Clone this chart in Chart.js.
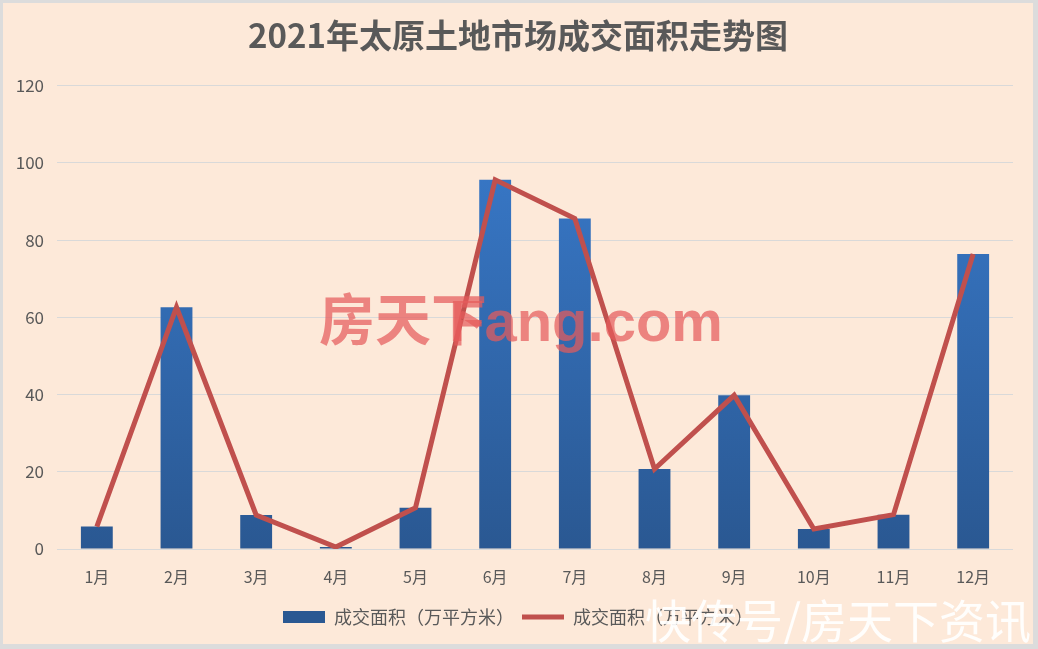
<!DOCTYPE html>
<html>
<head>
<meta charset="utf-8">
<script src="https://cdn.jsdelivr.net/npm/chart.js@4/dist/chart.umd.min.js"></script>
<style>
  html, body { margin: 0; padding: 0; width: 1038px; height: 649px; background: #DCDCDC; overflow: hidden; }
  #frame { position: absolute; left: 3px; top: 3px; width: 1030px; height: 641px; background: #FDE9D9; }
  canvas { display: block; }
</style>
</head>
<body>
<div id="frame"><canvas id="c" width="1030" height="641"></canvas></div>
<script>
const categories = ['1月','2月','3月','4月','5月','6月','7月','8月','9月','10月','11月','12月'];
const barValues = [5.8, 62.6, 8.8, 0.5, 10.7, 95.6, 85.6, 20.7, 39.8, 5.2, 8.9, 76.4];
const lineValues = [5.8, 62.6, 8.8, 0.5, 10.7, 95.6, 85.6, 20.7, 39.8, 5.2, 8.9, 76.4];
const seriesName = '成交面积（万平方米）';
const titleText = '2021年太原土地市场成交面积走势图';

const FONT = '"Noto Sans CJK SC", "Noto Sans", sans-serif';
const TEXT = '#595959';

function barGradient(ctx) {
  const chart = ctx.chart;
  const area = chart.chartArea;
  if (!area) return '#2F68B0';
  const g = chart.ctx.createLinearGradient(0, area.top, 0, area.bottom);
  g.addColorStop(0, '#3A7DD0');
  g.addColorStop(1, '#2A5892');
  return g;
}

const watermark = {
  id: 'watermark',
  afterDatasetsDraw(chart) {
    const c = chart.ctx;
    c.save();
    c.textBaseline = 'middle';
    c.fillStyle = 'rgba(228, 92, 92, 0.72)';
    c.font = 'bold 56px ' + FONT;
    c.textAlign = 'left';
    c.fillText('房天下', 316, 316);
    c.font = 'bold 58px "Liberation Sans", sans-serif';
    c.fillText('Fang.com', 446, 322);
    c.fillStyle = 'rgba(255,255,255,0.92)';
    c.font = '46px ' + FONT;
    c.textAlign = 'right';
    c.fillText('快传号/房天下资讯', 1028, 618);
    c.restore();
  }
};

new Chart(document.getElementById('c'), {
  data: {
    labels: categories,
    datasets: [
      {
        type: 'bar',
        label: seriesName,
        data: barValues,
        backgroundColor: barGradient,
        borderWidth: 0,
        categoryPercentage: 1.0,
        barPercentage: 0.4,
        order: 2,
        pointStyle: 'rect'
      },
      {
        type: 'line',
        label: seriesName,
        data: lineValues,
        borderColor: '#C0504D',
        backgroundColor: '#C0504D',
        borderWidth: 5,
        pointRadius: 0,
        tension: 0,
        order: 1,
        pointStyle: 'line'
      }
    ]
  },
  options: {
    responsive: false,
    animation: false,
    layout: { padding: { left: 0, right: 0, top: 0, bottom: 8 } },
    plugins: {
      title: {
        display: true,
        text: titleText,
        color: TEXT,
        font: { family: FONT, size: 33, weight: 'bold', lineHeight: 1.2 },
        padding: { top: 13, bottom: 30 }
      },
      legend: {
        display: true,
        position: 'bottom',
        labels: {
          usePointStyle: true,
          pointStyleWidth: 42,
          boxHeight: 12,
          color: TEXT,
          font: { family: FONT, size: 18 },
          padding: 8,
          sort: (a, b) => a.datasetIndex - b.datasetIndex
        }
      },
      tooltip: { enabled: false }
    },
    scales: {
      x: {
        grid: { display: false, drawTicks: false },
        border: { display: false },
        ticks: { color: TEXT, font: { family: FONT, size: 16 }, padding: 18 },
        afterFit(scale) { scale.height = 51; }
      },
      y: {
        min: 0,
        max: 120,
        ticks: { stepSize: 20, color: TEXT, font: { family: FONT, size: 17 }, padding: 13 },
        grid: { color: '#D9D9D9', lineWidth: 1, drawTicks: false },
        border: { display: false },
        afterFit(scale) { scale.width = 54; }
      },
      yRight: {
        position: 'right',
        min: 0,
        max: 120,
        grid: { display: false, drawTicks: false },
        border: { display: false },
        ticks: { display: false },
        afterFit(scale) { scale.width = 20; }
      }
    }
  },
  plugins: [watermark]
});
</script>
</body>
</html>
